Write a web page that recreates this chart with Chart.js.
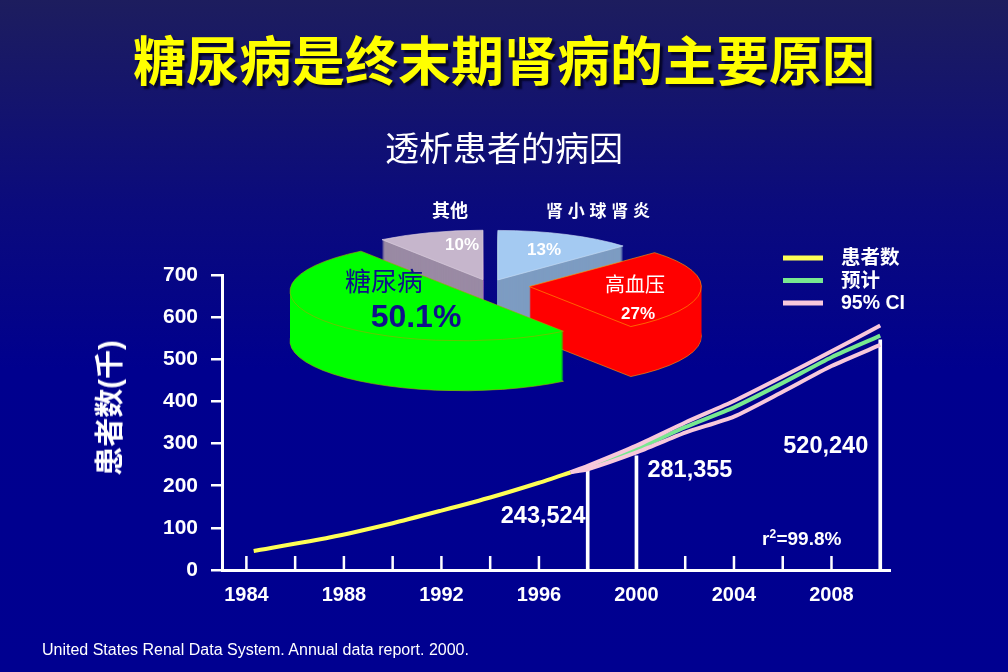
<!DOCTYPE html>
<html>
<head>
<meta charset="utf-8">
<script src="https://cdn.jsdelivr.net/npm/chart.js@4"></script>
<style>
  html, body { margin: 0; padding: 0; }
  body {
    width: 1008px; height: 672px; overflow: hidden; position: relative;
    background: linear-gradient(#1d1d5e 0%, #0b0b7c 30%, #00008e 55%, #000090 100%);
    font-family: "Liberation Sans", Arial, "Noto Sans CJK SC", sans-serif;
    color: #fff;
  }
  canvas { position: absolute; left: 0; top: 0; }
  .txt { position: absolute; white-space: nowrap; }
  #title { left: 0; width: 1008px; top: 20px; text-align: center; font-size: 53px; font-weight: bold; color: #ffff00; text-shadow: 3px 3px 2px #05052a; }
  #subtitle { left: 0; width: 1008px; top: 122px; text-align: center; font-size: 34px; }
  #ytitle { left: 107px; top: 408px; font-size: 29px; font-weight: bold; transform: translate(-50%, -50%) rotate(-90deg); }
  #footer { left: 42px; top: 641px; font-size: 16px; }
</style>
</head>
<body>
<canvas id="main" width="1008" height="672"></canvas>
<canvas id="pie" width="1008" height="672"></canvas>
<div class="txt" id="title">糖尿病是终末期肾病的主要原因</div>
<div class="txt" id="subtitle">透析患者的病因</div>
<div class="txt" id="ytitle">患者数(千)</div>
<div class="txt" id="footer">United States Renal Data System. Annual data report. 2000.</div>
<script>
// 患者数 (actual), thousands
const patientYears = [1984.3, 1987.4, 1990, 1992, 1994, 1996, 1997.3];
const patientValues = [45, 77, 111, 141, 172, 207, 232];

// 预计 (projection) and 95% CI
const projYears = [1998, 2000, 2002, 2004, 2006, 2008, 2010];
const projValues = [243, 287, 339, 386, 444, 505, 556];
const ciYears = [1997.3, 1998, 2000, 2002, 2004, 2006, 2008, 2010];
const ciUpper = [232, 247, 295, 350, 401, 459, 519, 580];
const ciLower = [232, 239, 279, 326, 364, 423, 484, 534];

// vertical marker lines and their labels
const markerYears = [1998, 2000, 2010];
const markerValues = [242, 271, 546];
const markerLabels = ['243,524', '281,355', '520,240'];

const xTickYears = [1984, 1986, 1988, 1990, 1992, 1994, 1996, 1998, 2000, 2002, 2004, 2006, 2008, 2010];
const xLabelYears = [1984, 1988, 1992, 1996, 2000, 2004, 2008];

// pie: 透析患者的病因
const causeLabels = ['肾小球肾炎', '高血压', '糖尿病', '其他'];
const causeValues = [13, 27, 50.1, 10];

const FONT = '"Liberation Sans", Arial, "Noto Sans CJK SC", sans-serif';
Chart.defaults.font.family = FONT;
Chart.defaults.color = '#fff';

const pts = (xs, ys) => xs.map((x, i) => ({ x: x, y: ys[i] }));

// annotation anchors in data units (x year, y value), plus pixel nudges
const markerText = [
  { x: 1998, y: 126, align: 'right', dx: -2 },
  { x: 2000, y: 235, align: 'left', dx: 11 },
  { x: 2010, y: 293, align: 'right', dx: -12 }
];

const axisExtras = {
  id: 'axisExtras',
  afterDraw(chart) {
    const ctx = chart.ctx;
    const xs = chart.scales.x, ys = chart.scales.y;
    ctx.save();
    // x ticks point up into the plot
    ctx.strokeStyle = '#fff';
    ctx.lineWidth = 2.5;
    xs.ticks.forEach(t => {
      const px = xs.getPixelForValue(t.value);
      ctx.beginPath();
      ctx.moveTo(px, ys.bottom);
      ctx.lineTo(px, ys.bottom - 14);
      ctx.stroke();
    });
    // marker labels
    ctx.fillStyle = '#fff';
    ctx.font = 'bold 23.5px ' + FONT;
    ctx.textBaseline = 'middle';
    markerText.forEach((m, i) => {
      ctx.textAlign = m.align;
      ctx.fillText(markerLabels[i], xs.getPixelForValue(m.x) + m.dx, ys.getPixelForValue(m.y));
    });
    // r² note
    ctx.font = 'bold 19px ' + FONT;
    ctx.textAlign = 'left';
    const rx = xs.getPixelForValue(2005.15), ry = ys.getPixelForValue(71);
    ctx.fillText('r', rx, ry);
    const rw = ctx.measureText('r').width;
    ctx.font = 'bold 12px ' + FONT;
    ctx.fillText('2', rx + rw, ry - 5);
    ctx.font = 'bold 19px ' + FONT;
    ctx.fillText('=99.8%', rx + rw + 7, ry);
    // legend
    const order = [3, 2, 0];
    ctx.font = 'bold 19.5px ' + FONT;
    order.forEach((di, k) => {
      const ds = chart.data.datasets[di];
      const y = 258 + k * 22.5;
      ctx.strokeStyle = ds.borderColor;
      ctx.lineWidth = 5;
      ctx.beginPath();
      ctx.moveTo(783, y);
      ctx.lineTo(823, y);
      ctx.stroke();
      ctx.fillStyle = '#fff';
      ctx.fillText(ds.label, 841, y + 1);
    });
    ctx.restore();
  }
};

const lineStyle = { pointRadius: 0, borderWidth: 4, tension: 0.2, fill: false };

new Chart(document.getElementById('main'), {
  type: 'line',
  data: {
    datasets: [
      Object.assign({ label: '95% CI', data: pts(ciYears, ciUpper), borderColor: '#f8c8dc' }, lineStyle),
      Object.assign({ label: '95% CI low', data: pts(ciYears, ciLower), borderColor: '#f8c8dc' }, lineStyle),
      Object.assign({ label: '预计', data: pts(projYears, projValues), borderColor: '#78e890' }, lineStyle),
      Object.assign({ label: '患者数', data: pts(patientYears, patientValues), borderColor: '#ffff55' }, lineStyle),
      { type: 'bar', label: 'markers', data: pts(markerYears, markerValues), backgroundColor: '#fff', barThickness: 3 }
    ]
  },
  options: {
    responsive: false,
    animation: false,
    layout: { padding: { left: 0, right: 118, top: 275, bottom: 0 } },
    plugins: { legend: { display: false }, tooltip: { enabled: false } },
    scales: {
      x: {
        type: 'linear',
        offset: false,
        min: 1983,
        max: 2010.4,
        afterBuildTicks: s => { s.ticks = xTickYears.map(v => ({ value: v })); },
        afterFit: s => { s.height = 102; },
        ticks: {
          autoSkip: false, maxRotation: 0, padding: 5,
          font: { size: 20, weight: 'bold' }, color: '#fff',
          callback: v => xLabelYears.includes(v) ? String(v) : ''
        },
        grid: { display: false },
        border: { display: true, color: '#fff', width: 3 }
      },
      y: {
        min: 0,
        max: 700,
        afterFit: s => { s.width = 222; },
        ticks: { stepSize: 100, padding: 13, font: { size: 21, weight: 'bold' }, color: '#fff' },
        grid: { drawOnChartArea: false, drawTicks: true, tickLength: 11, color: '#fff', lineWidth: 2.5 },
        border: { display: true, color: '#fff', width: 3 }
      }
    }
  },
  plugins: [axisExtras]
});

// ---- 3D exploded pie ----
const TILT = 0.288;
const DEPTH = 50;
const explode = [21, 40, 34, 21];
const topColors = ['#a4caf2', '#ff0000', '#00ff00', '#c6b6cc'];
const sideColors = ['#7d9cc2', '#ff0000', '#00ff00', '#9a8aa4'];
const edgeColors = ['#c8dcf4', '#ff9900', '#99aa00', '#ddd0e0'];

const pieLabels = [
  { t: '其他', x: 450, y: 212, font: 'bold 18px', color: '#fff' },
  { t: '肾 小 球 肾 炎', x: 598, y: 212, font: 'bold 17px', color: '#fff' },
  { t: '10%', x: 462, y: 245, font: 'bold 17px', color: '#fff' },
  { t: '13%', x: 544, y: 250, font: 'bold 17px', color: '#fff' },
  { t: '糖尿病', x: 384, y: 284, font: '26px', color: '#10108a' },
  { t: '50.1%', x: 416, y: 318, font: 'bold 32px', color: '#10108a' },
  { t: '高血压', x: 635, y: 286, font: '20px', color: '#fff' },
  { t: '27%', x: 638, y: 314, font: 'bold 17px', color: '#fff' }
];

const pie3d = {
  id: 'pie3d',
  beforeDatasetsDraw(chart) {
    const ctx = chart.ctx;
    const arcs = chart.getDatasetMeta(0).data;
    const cy = arcs[0].y;
    const place = (arc, i, shift) => {
      const mid = (arc.startAngle + arc.endAngle) / 2;
      ctx.translate(0, cy + shift);
      ctx.scale(1, TILT);
      ctx.translate(0, -cy);
      ctx.translate(Math.cos(mid) * explode[i], Math.sin(mid) * explode[i]);
    };
    const idx = arcs.map((a, i) => i).sort((a, b) => {
      const ma = (arcs[a].startAngle + arcs[a].endAngle) / 2;
      const mb = (arcs[b].startAngle + arcs[b].endAngle) / 2;
      return Math.sin(ma) * explode[a] - Math.sin(mb) * explode[b];
    });
    idx.forEach(i => {
      const arc = arcs[i];
      const own = arc.options;
      for (let s = DEPTH; s >= 1; s--) {
        arc.options = Object.assign({}, own, {
          backgroundColor: sideColors[i],
          borderColor: s === DEPTH ? edgeColors[i] : sideColors[i],
          borderWidth: s === DEPTH ? 1 : 0
        });
        ctx.save();
        place(arc, i, s);
        arc.draw(ctx);
        ctx.restore();
      }
      arc.options = own;
      ctx.save();
      place(arc, i, 0);
      arc.draw(ctx);
      ctx.restore();
    });
    return false;
  },
  afterDraw(chart) {
    const ctx = chart.ctx;
    ctx.save();
    ctx.textAlign = 'center';
    ctx.textBaseline = 'middle';
    pieLabels.forEach(l => {
      ctx.font = l.font + ' ' + FONT;
      ctx.fillStyle = l.color;
      ctx.fillText(l.t, l.x, l.y);
    });
    ctx.restore();
  }
};

new Chart(document.getElementById('pie'), {
  type: 'pie',
  data: {
    labels: causeLabels,
    datasets: [{
      data: causeValues,
      backgroundColor: topColors,
      borderColor: edgeColors,
      borderWidth: 1,
      clip: false
    }]
  },
  options: {
    responsive: false,
    animation: false,
    layout: { padding: { left: 317, top: 113, right: 346, bottom: 214 } },
    plugins: { legend: { display: false }, tooltip: { enabled: false } }
  },
  plugins: [pie3d]
});
</script>
</body>
</html>
